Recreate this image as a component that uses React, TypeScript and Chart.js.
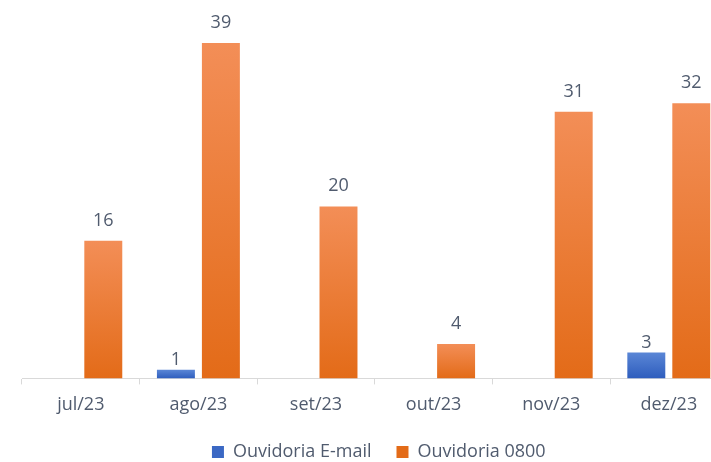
import React, { useEffect, useRef } from "react";
import { Chart, registerables } from "chart.js";

Chart.register(...registerables);

const categories = ["jul/23", "ago/23", "set/23", "out/23", "nov/23", "dez/23"];
const emailValues: (number | null)[] = [null, 1, null, null, null, 3];
const phoneValues: (number | null)[] = [16, 39, 20, 4, 31, 32];
const seriesNames = ["Ouvidoria E-mail", "Ouvidoria 0800"];

const TEXT = "#505b6e";
const FONT = "'Open Sans', sans-serif";

function gradientFill(top: string, bottom: string, solid: string) {
  return (c: any) => {
    const chart = c.chart;
    if (c.type !== "data" || c.raw == null || !chart.chartArea) return solid;
    const y = chart.scales.y;
    const yTop = y.getPixelForValue(c.raw);
    const yBot = y.getPixelForValue(0);
    const g = chart.ctx.createLinearGradient(0, yTop, 0, yBot);
    g.addColorStop(0, top);
    g.addColorStop(1, bottom);
    return g;
  };
}

const labelOffsets = [5, 15];

const barLabels = {
  id: "barLabels",
  afterLayout(chart: any) {
    if (chart.legend) {
      chart.legend.left += 4;
      chart.legend.right += 4;
    }
  },
  afterDatasetsDraw(chart: any) {
    const ctx = chart.ctx;
    chart.data.datasets.forEach((ds: any, di: number) => {
      const meta = chart.getDatasetMeta(di);
      meta.data.forEach((bar: any, i: number) => {
        const v = ds.data[i];
        if (v == null) return;
        ctx.save();
        ctx.font = `18px ${FONT}`;
        ctx.fillStyle = TEXT;
        ctx.textAlign = "center";
        ctx.textBaseline = "alphabetic";
        ctx.fillText(String(v), bar.x, bar.y - labelOffsets[di]);
        ctx.restore();
      });
    });
  },
};

export default function App() {
  const ref = useRef<HTMLCanvasElement>(null);
  useEffect(() => {
    if (!ref.current) return;
    const chart = new Chart(ref.current, {
      type: "bar",
      data: {
        labels: categories,
        datasets: [
          {
            label: seriesNames[0],
            data: emailValues,
            backgroundColor: gradientFill("#5a86d6", "#2e5dbd", "#3b68c4"),
            categoryPercentage: 0.765,
            barPercentage: 0.844,
          },
          {
            label: seriesNames[1],
            data: phoneValues,
            backgroundColor: gradientFill("#f38e57", "#e36b18", "#ed7628"),
            categoryPercentage: 0.765,
            barPercentage: 0.844,
          },
        ],
      },
      options: {
        animation: false,
        responsive: false,
        maintainAspectRatio: false,
        layout: { padding: { left: 22, right: 29.4, top: 34.4, bottom: 0 } },
        scales: {
          x: {
            offset: true,
            grid: {
              display: true,
              drawOnChartArea: false,
              drawTicks: true,
              tickLength: 6,
              color: "#d9d9d9",
              offset: true,
            },
            border: { display: true, color: "#d9d9d9" },
            ticks: { color: TEXT, font: { family: FONT, size: 18 }, padding: 10 },
            afterFit: (scale: any) => {
              scale.height -= 8;
            },
          },
          y: {
            display: false,
            min: 0,
            max: 40,
          },
        },
        plugins: {
          legend: {
            position: "bottom",
            labels: {
              boxWidth: 12,
              boxHeight: 12,
              padding: 25,
              color: TEXT,
              font: { family: FONT, size: 18 },
            },
          },
          tooltip: { enabled: false },
        },
      },
      plugins: [barLabels],
    });
    return () => chart.destroy();
  }, []);
  return (
    <div style={{ position: "fixed", left: 0, top: 0, width: 711, height: 462, overflow: "hidden", background: "#fff" }}>
      <canvas ref={ref} width={757} height={471} style={{ display: "block", width: 757, height: 471 }} />
    </div>
  );
}
